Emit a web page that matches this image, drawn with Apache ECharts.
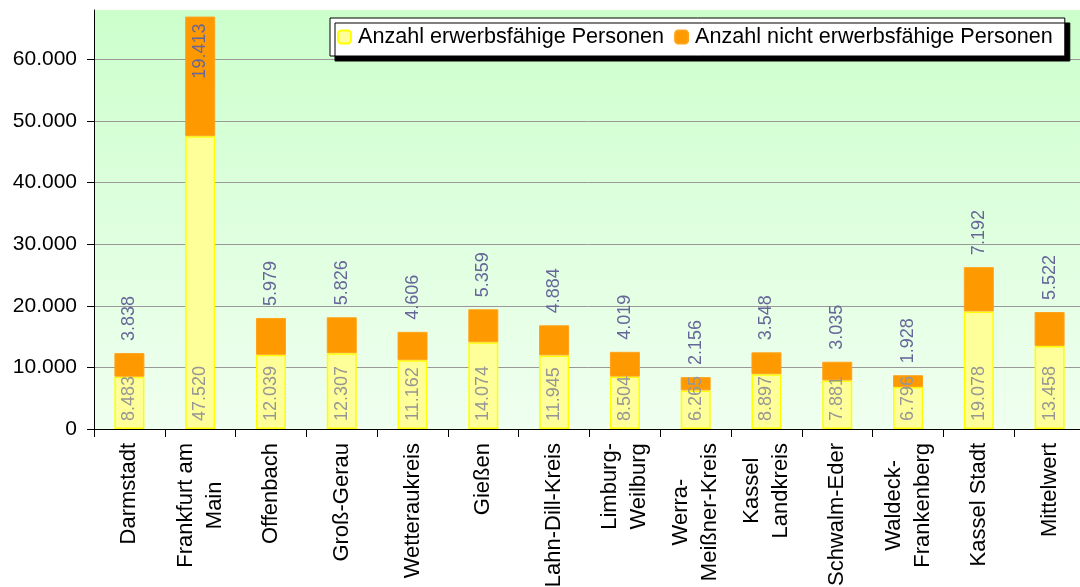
<!DOCTYPE html>
<html>
<head>
<meta charset="utf-8">
<script src="https://cdn.jsdelivr.net/npm/echarts@6/dist/echarts.min.js"></script>
<style>
html, body { margin: 0; padding: 0; background: #fff; }
#chart { width: 1080px; height: 587px; }
</style>
</head>
<body>
<div id="chart"></div>
<script>
var regionen = ['Darmstadt', 'Frankfurt am\nMain', 'Offenbach', 'Groß-Gerau', 'Wetteraukreis', 'Gießen',
    'Lahn-Dill-Kreis', 'Limburg-\nWeilburg', 'Werra-\nMeißner-Kreis', 'Kassel\nLandkreis',
    'Schwalm-Eder', 'Waldeck-\nFrankenberg', 'Kassel Stadt', 'Mittelwert'];
var erwerbsfaehig = [8483, 47520, 12039, 12307, 11162, 14074, 11945, 8504, 6265, 8897, 7881, 6796, 19078, 13458];
var nichtErwerbsfaehig = [3838, 19413, 5979, 5826, 4606, 5359, 4884, 4019, 2156, 3548, 3035, 1928, 7192, 5522];

var dom = document.getElementById('chart');
var myChart = echarts.init(dom);
var fontName = 'Liberation Sans, Arial, sans-serif';

function deZahl(v) {
    return String(v).replace(/\B(?=(\d{3})+(?!\d))/g, '.');
}

// Frankfurt: label sits inside the orange block, others above the stack
var nichtDaten = nichtErwerbsfaehig.map(function (v, i) {
    if (erwerbsfaehig[i] + v > 60000) {
        return { value: v, label: { position: 'insideTop', align: 'right', distance: 7 } };
    }
    return v;
});

var option = {
    animation: false,
    textStyle: { fontFamily: fontName },
    legend: {
        left: 330,
        top: 18,
        padding: [8, 12, 8, 7],
        itemWidth: 13,
        itemHeight: 13,
        itemGap: 10,
        backgroundColor: '#fff',
        borderColor: '#000',
        borderWidth: 1,
        shadowColor: '#000',
        shadowBlur: 0,
        shadowOffsetX: 5,
        shadowOffsetY: 5,
        textStyle: { fontSize: 21.6, color: '#000', fontFamily: fontName, padding: [0, 0, 0, 2] },
        data: ['Anzahl erwerbsfähige Personen', 'Anzahl nicht erwerbsfähige Personen']
    },
    grid: {
        left: 94,
        right: -5,
        top: 10,
        bottom: 158,
        outerBoundsMode: 'none',
        containLabel: false,
        show: true,
        borderWidth: 0,
        backgroundColor: new echarts.graphic.LinearGradient(0, 0, 0, 1, [
            { offset: 0, color: '#ccffcc' },
            { offset: 1, color: '#f0fff0' }
        ])
    },
    xAxis: {
        type: 'category',
        data: regionen,
        axisLine: { lineStyle: { color: '#000', width: 1 } },
        axisTick: { show: true, length: 8, lineStyle: { color: '#000' } },
        axisLabel: {
            rotate: 90,
            interval: 0,
            margin: 14,
            color: '#000',
            fontFamily: fontName,
            formatter: function (v) {
                // every line centred inside the label block
                return v.split('\n').map(function (z) { return '{c|' + z + '}'; }).join('\n');
            },
            rich: {
                c: { align: 'center', fontSize: 22, lineHeight: 29, color: '#000', fontFamily: fontName }
            }
        }
    },
    yAxis: {
        type: 'value',
        min: 0,
        max: 68000,
        interval: 10000,
        axisLine: { show: true, lineStyle: { color: '#000' } },
        axisTick: { show: true, length: 7, lineStyle: { color: '#000' } },
        axisLabel: {
            showMaxLabel: false,
            margin: 17,
            fontSize: 21,
            color: '#000',
            fontFamily: fontName,
            formatter: function (v) { return deZahl(v); }
        },
        splitLine: { showMaxLine: false, lineStyle: { color: '#999', width: 1 } }
    },
    series: [
        {
            name: 'Anzahl erwerbsfähige Personen',
            type: 'bar',
            stack: 'gesamt',
            barWidth: 30,
            data: erwerbsfaehig,
            itemStyle: { color: '#ffff99', borderColor: '#ffff00', borderWidth: 1.5 },
            label: {
                show: true,
                position: 'insideBottom',
                rotate: 90,
                align: 'left',
                verticalAlign: 'middle',
                distance: 8,
                fontSize: 18,
                color: '#969696',
                fontFamily: fontName,
                formatter: function (p) { return deZahl(p.value); }
            }
        },
        {
            name: 'Anzahl nicht erwerbsfähige Personen',
            type: 'bar',
            stack: 'gesamt',
            barWidth: 30,
            data: nichtDaten,
            itemStyle: { color: '#ff9900', borderColor: '#ffa31a', borderWidth: 1 },
            label: {
                show: true,
                position: 'top',
                rotate: 90,
                align: 'left',
                verticalAlign: 'middle',
                distance: 12,
                fontSize: 18,
                color: '#666699',
                fontFamily: fontName,
                formatter: function (p) { return deZahl(p.value); }
            }
        }
    ]
};

if (option && typeof option === 'object') {
    myChart.setOption(option, true);
}
</script>
</body>
</html>
